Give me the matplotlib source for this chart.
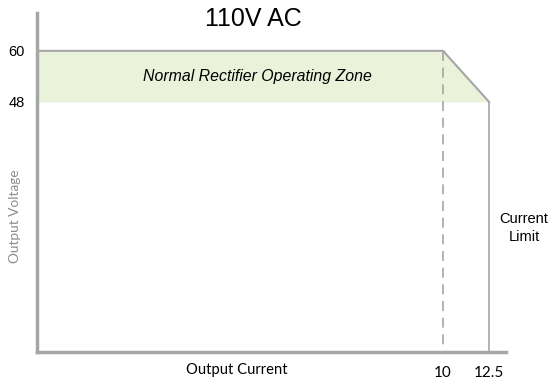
import matplotlib.pyplot as plt

# zone outline (output current, output voltage)
current = [-12.07, 10, 12.5]
v_top = [60, 60, 48]
v_low = 48
y_ticks = [60, 48]
x_ticks = [10, 12.5]

grey = '#a6a6a6'

fig = plt.figure(figsize=(5.51, 3.81), dpi=100)
ax = fig.add_axes([37/551, 29/381, 469/551, 339/381])

ax.fill_between(current, v_top, v_low, color='#eaf3d9', lw=0)
ax.plot(current, v_top, color=grey, lw=1.5)
ax.plot([12.5, 12.5], [48, -10.8], color=grey, lw=1.2)
ax.plot([10, 10], [60, -10.8], color=grey, lw=1.2, ls=(0, (6, 4)))

ax.set_xlim(-12.07, 13.42)
ax.set_ylim(-10.8, 68.9)

for s in ['top', 'right']:
    ax.spines[s].set_visible(False)
for s in ['left', 'bottom']:
    ax.spines[s].set_color(grey)
    ax.spines[s].set_linewidth(2.5)

ax.set_yticks(y_ticks)
ax.set_yticklabels([str(v) for v in y_ticks], fontsize=10.5, family='Liberation Sans')
ax.set_xticks(x_ticks)
ax.set_xticklabels(['10', '12.5'], fontsize=11, family='Lato')
ax.tick_params(length=0, pad=9)
ax.tick_params(axis='x', pad=10)

fig.text(253/551, 1 - 19/381, '110V AC', ha='center', va='center',
         fontsize=18, family='Liberation Sans')
fig.text(257/551, 1 - 77/381, 'Normal Rectifier Operating Zone', ha='center', va='center',
         fontsize=11.4, style='italic', family='Liberation Sans')
fig.text(15/551, 1 - 216/381, 'Output Voltage', rotation=90, ha='center', va='center',
         fontsize=9.8, color='#8c8c8c', family='Lato')
fig.text(237/551, 1 - 370/381, 'Output Current', ha='center', va='center',
         fontsize=10.6, family='Lato')
fig.text(524/551, 1 - 228/381, 'Current\nLimit', ha='center', va='center',
         fontsize=10.5, family='Liberation Sans', linespacing=1.4)

fig.savefig('out.png', dpi=100)
